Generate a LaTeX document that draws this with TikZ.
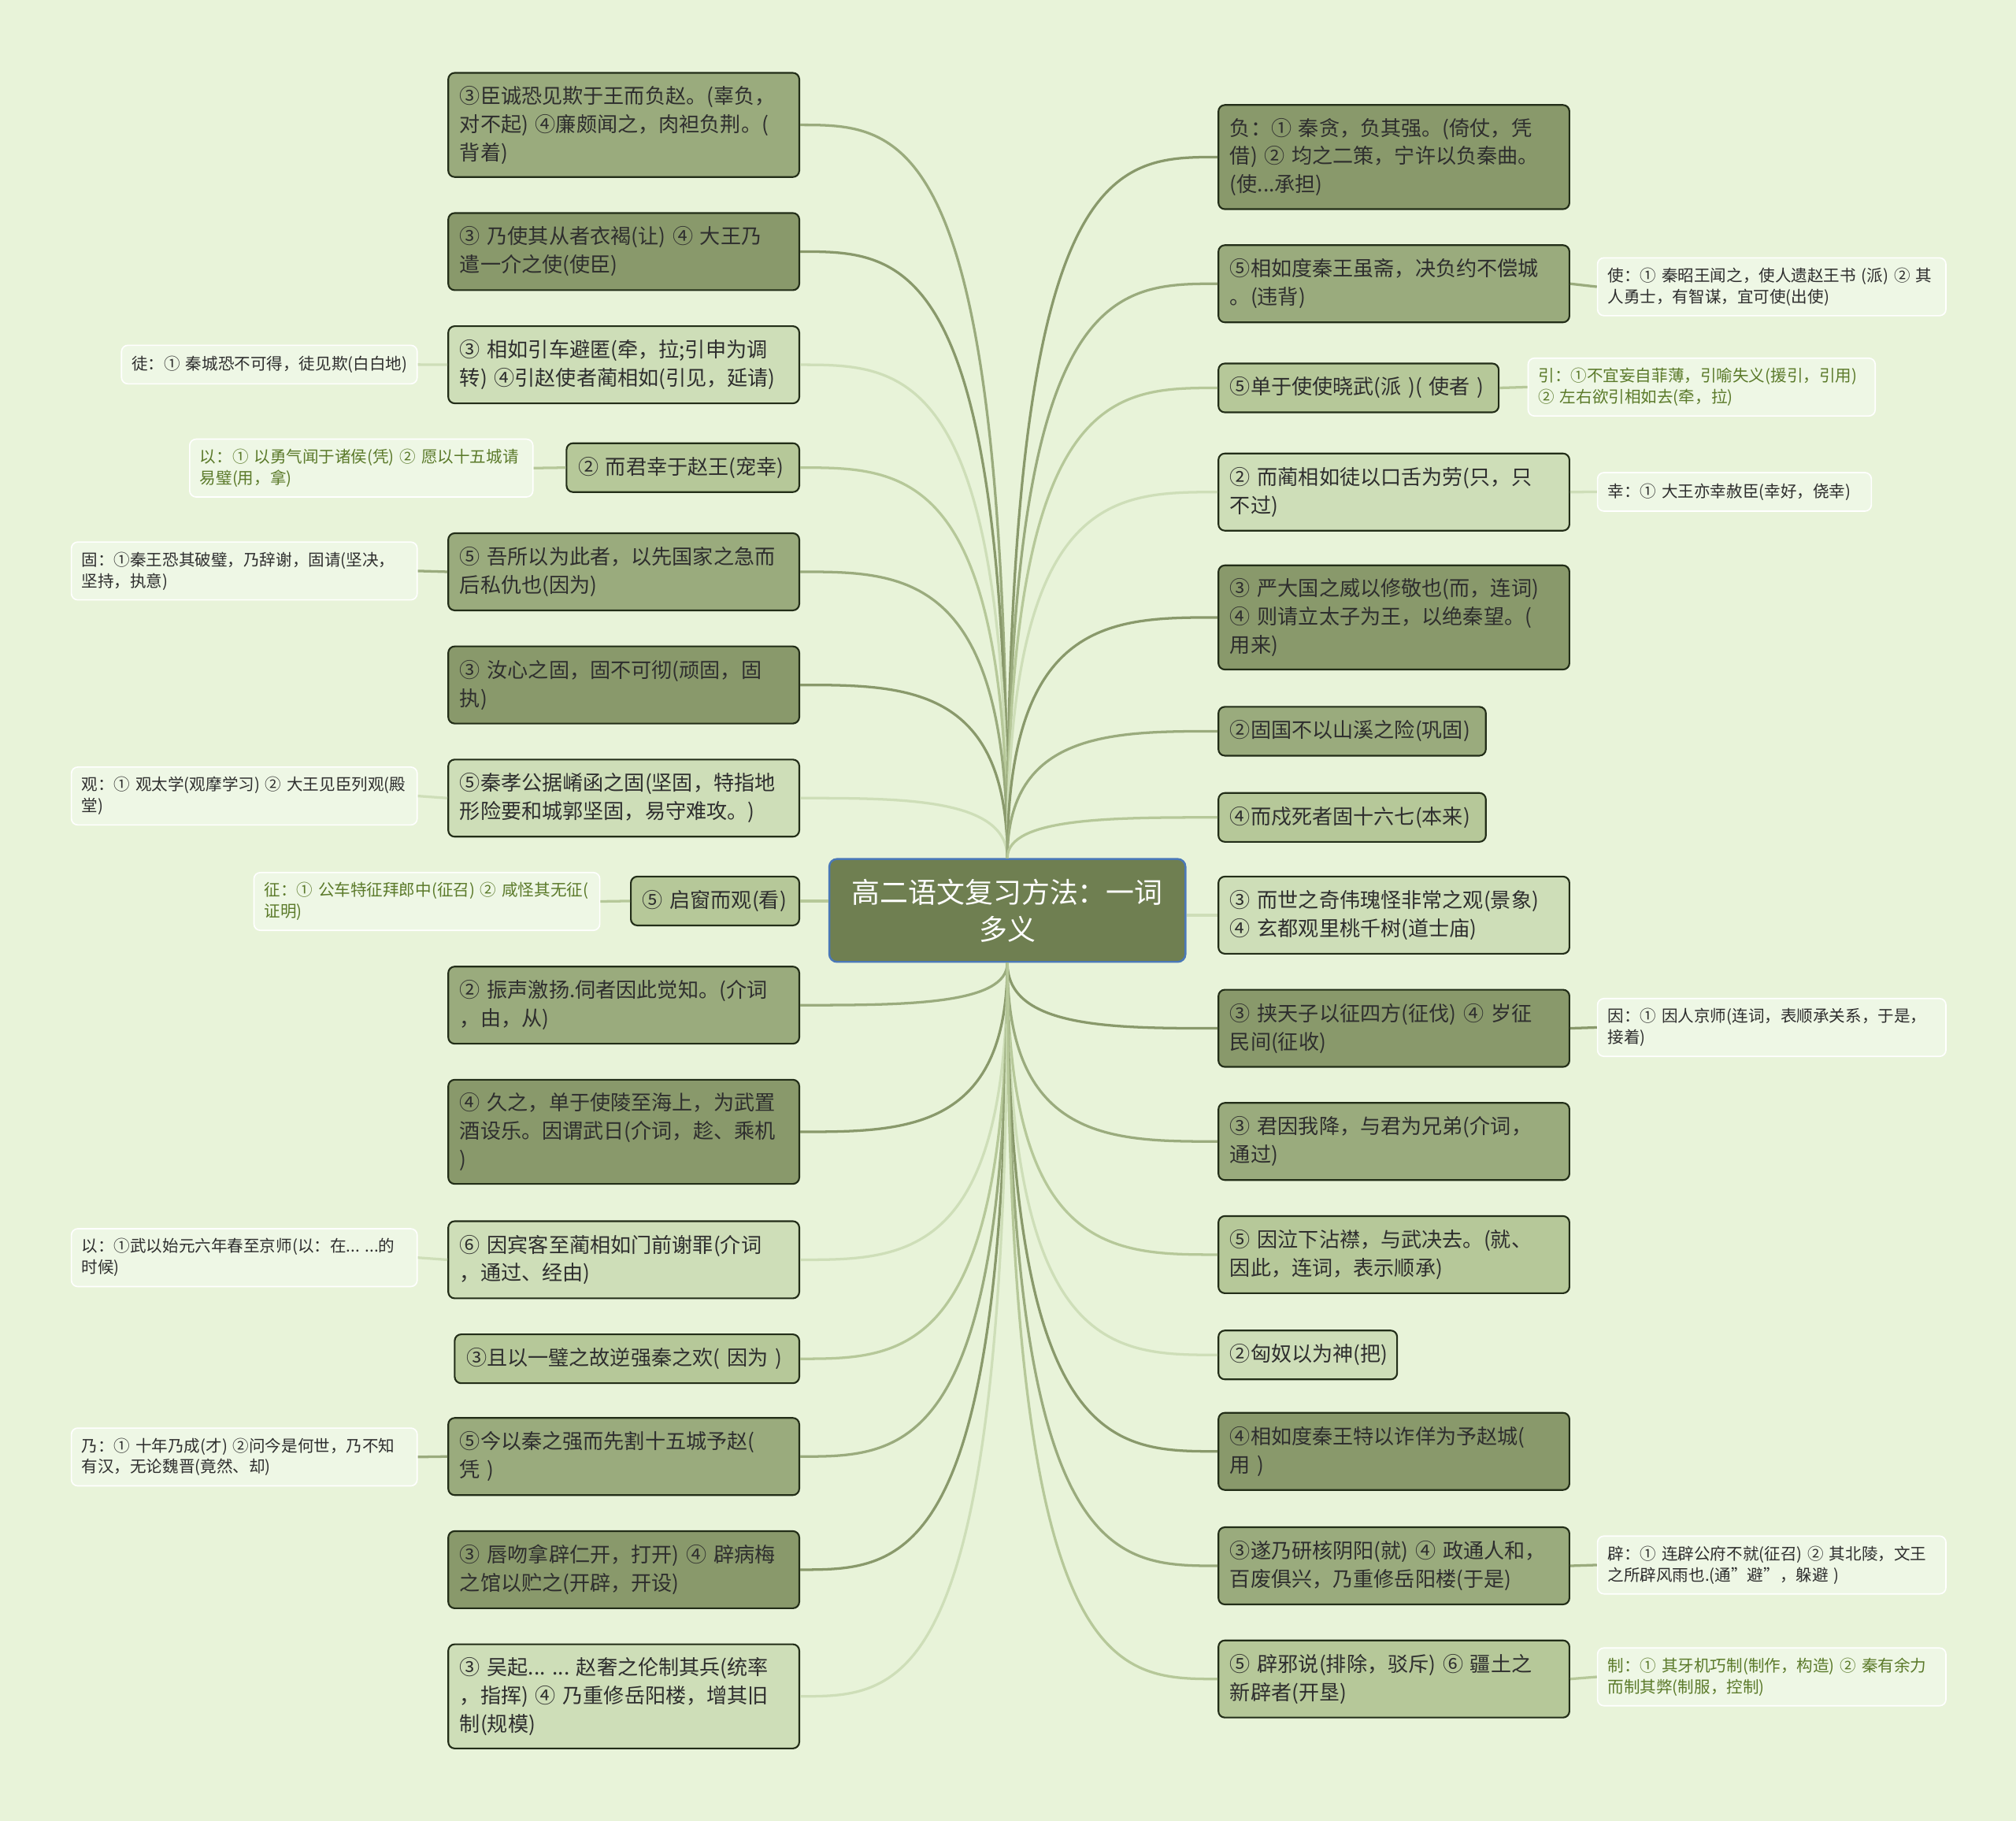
\documentclass[tikz,border=0pt]{standalone}
\usepackage{fontspec}
\setmainfont{Noto Sans CJK SC}
\usetikzlibrary{calc}
\definecolor{bgcol}{HTML}{E8F3D9}
\definecolor{olivea}{HTML}{89996B}
\definecolor{oliveb}{HTML}{9AAB7D}
\definecolor{olivec}{HTML}{B6C899}
\definecolor{olived}{HTML}{CEDEB8}
\definecolor{rootfill}{HTML}{6F7F51}
\definecolor{rootline}{HTML}{4A78B8}
\definecolor{boxline}{HTML}{222D18}
\definecolor{notefill}{HTML}{EEF7E5}
\definecolor{notegreen}{HTML}{5B7A2A}
\definecolor{inkgray}{HTML}{2E2E2E}
\tikzset{
  root/.style={fill=rootfill,draw=rootline,line width=1.5pt,rounded corners=6pt,
    minimum width=277pt,minimum height=80pt,text=white,align=center,
    font=\fontsize{22}{29}\selectfont},
  leaf/.style={draw=boxline,line width=1.3pt,rounded corners=5pt,anchor=north west,
    align=left,text width=255pt,inner xsep=9pt,inner ysep=0pt,text=inkgray,
    font=\fontsize{16}{22}\selectfont},
  note/.style={fill=notefill,draw=white,line width=1pt,rounded corners=5pt,anchor=north west,
    align=left,text width=255pt,inner xsep=8pt,inner ysep=0pt,text=inkgray,
    font=\fontsize{12.6}{16.5}\selectfont},
  oneline/.style={minimum height=38pt},
  twoline/.style={minimum height=60pt},
  threeline/.style={minimum height=81pt},
  noteone/.style={minimum height=30pt},
  notetwo/.style={minimum height=45pt},
  branch/.style={line width=2pt},
  fan/.style={to path={.. controls (\tikztostart |- \tikztotarget)
    and ($(\tikztostart |- \tikztotarget)!.5!(\tikztotarget)$) .. (\tikztotarget)}}
}

\begin{document}
\begin{tikzpicture}[x=1pt,y=-1pt]
\useasboundingbox (0,0) rectangle (1568,1416);
\fill[bgcol] (0,0) rectangle (1568,1416);

\node[root] (root) at (783.5,708) {高二语文复习方法：一词\\多义};

% left side
\node[leaf,threeline,fill=oliveb] (L1) at (348,56) {③臣诚恐见欺于王而负赵。(辜负，\\对不起) ④廉颇闻之，肉袒负荆。(\\背着)};
\node[leaf,twoline,fill=olivea] (L2) at (348,165) {③ 乃使其从者衣褐(让) ④ 大王乃\\遣一介之使(使臣)};
\node[leaf,twoline,fill=olived] (L3) at (348,253) {③~相如引车避匿(牵，拉;引申为调\\转) ④引赵使者蔺相如(引见，延请)};
\node[leaf,oneline,fill=olivec,text width=163pt] (L4) at (440,344) {②~而君幸于赵王(宠幸)};
\node[leaf,twoline,fill=oliveb] (L5) at (348,414) {⑤~吾所以为此者，以先国家之急而\\后私仇也(因为)};
\node[leaf,twoline,fill=olivea] (L6) at (348,502) {③ 汝心之固，固不可彻(顽固，固\\执)};
\node[leaf,twoline,fill=olived] (L7) at (348,590) {⑤秦孝公据崤函之固(坚固，特指地\\形险要和城郭坚固，易守难攻。)};
\node[leaf,oneline,fill=olivec,text width=113pt] (L8) at (490,681) {⑤~启窗而观(看)};
\node[leaf,twoline,fill=oliveb] (L9) at (348,751) {②~振声激扬.伺者因此觉知。(介词\\，由，从)};
\node[leaf,threeline,fill=olivea] (L10) at (348,839) {④~久之，单于使陵至海上，为武置\\酒设乐。因谓武日(介词，趁、乘机\\)};
\node[leaf,twoline,fill=olived] (L11) at (348,949) {⑥~因宾客至蔺相如门前谢罪(介词\\，通过、经由)};
\node[leaf,oneline,fill=olivec,text width=250pt] (L12) at (353,1037) {③且以一璧之故逆强秦之欢(~因为~)};
\node[leaf,twoline,fill=oliveb] (L13) at (348,1102) {⑤今以秦之强而先割十五城予赵(\\凭 )};
\node[leaf,twoline,fill=olivea] (L14) at (348,1190) {③~唇吻拿辟仁开，打开)~④~辟病梅\\之馆以贮之(开辟，开设)};
\node[leaf,threeline,fill=olived] (L15) at (348,1278) {③~吴起...~...~赵奢之伦制其兵(统率\\，指挥) ④ 乃重修岳阳楼，增其旧\\制(规模)};

% right side
\node[leaf,threeline,fill=olivea] (R1) at (947,81) {负：① 秦贪，负其强。(倚仗，凭\\借) ② 均之二策，宁许以负秦曲。\\(使...承担)};
\node[leaf,twoline,fill=oliveb] (R2) at (947,190) {⑤相如度秦王虽斋，决负约不偿城\\。(违背)};
\node[leaf,oneline,fill=olivec,text width=200pt] (R3) at (947,282) {⑤单于使使晓武(派~)(~使者~)};
\node[leaf,twoline,fill=olived] (R4) at (947,352) {②~而蔺相如徒以口舌为劳(只，只\\不过)};
\node[leaf,threeline,fill=olivea] (R5) at (947,439) {③~严大国之威以修敬也(而，连词)\\④~则请立太子为王，以绝秦望。(\\用来)};
\node[leaf,oneline,fill=oliveb,text width=190pt] (R6) at (947,549) {②固国不以山溪之险(巩固)};
\node[leaf,oneline,fill=olivec,text width=190pt] (R7) at (947,616) {④而戍死者固十六七(本来)};
\node[leaf,twoline,fill=olived] (R8) at (947,681) {③~而世之奇伟瑰怪非常之观(景象)\\④ 玄都观里桃千树(道士庙)};
\node[leaf,twoline,fill=olivea] (R9) at (947,769) {③~挟天子以征四方(征伐)~④~岁征\\民间(征收)};
\node[leaf,twoline,fill=oliveb] (R10) at (947,857) {③~君因我降，与君为兄弟(介词，\\通过)};
\node[leaf,twoline,fill=olivec] (R11) at (947,945) {⑤~因泣下沾襟，与武决去。(就、\\因此，连词，表示顺承)};
\node[leaf,oneline,fill=olived,text width=121pt] (R12) at (947,1034) {②匈奴以为神(把)};
\node[leaf,twoline,fill=olivea] (R13) at (947,1098) {④相如度秦王特以诈佯为予赵城(\\用 )};
\node[leaf,twoline,fill=oliveb] (R14) at (947,1187) {③遂乃研核阴阳(就)~④~政通人和，\\百废俱兴，乃重修岳阳楼(于是)};
\node[leaf,twoline,fill=olivec] (R15) at (947,1275) {⑤~辟邪说(排除，驳斥)~⑥~疆土之\\新辟者(开垦)};

% notes
\node[note,noteone,text width=214pt] (Ntu) at (94,268) {徒：①~秦城恐不可得，徒见欺(白白地)};
\node[note,notetwo,text width=251pt,text=notegreen] (Nyia) at (147,341) {以：①~以勇气闻于诸侯(凭)~②~愿以十五城请\\易璧(用，拿)};
\node[note,notetwo,text width=253pt] (Ngu) at (55,421) {固：①秦王恐其破璧，乃辞谢，固请(坚决，\\坚持，执意)};
\node[note,notetwo,text width=253pt] (Nguan) at (55,596) {观：①~观太学(观摩学习)~②~大王见臣列观(殿\\堂)};
\node[note,notetwo,text width=253pt,text=notegreen] (Nzheng) at (197,678) {征：①~公车特征拜郎中(征召)~②~咸怪其无征(\\证明)};
\node[note,notetwo,text width=253pt] (Nyib) at (55,955) {以：①武以始元六年春至京师(以：在...~...的\\时候)};
\node[note,notetwo,text width=253pt] (Nnai) at (55,1110) {乃：①~十年乃成(才)~②问今是何世，乃不知\\有汉，无论魏晋(竟然、却)};
\node[note,notetwo] (Nshi) at (1242,200) {使：①~秦昭王闻之，使人遗赵王书~(派)~②~其\\人勇士，有智谋，宜可使(出使)};
\node[note,notetwo,text width=254pt,text=notegreen] (Nyin) at (1188,278) {引：①不宜妄自菲薄，引喻失义(援引，引用)\\② 左右欲引相如去(牵，拉)};
\node[note,noteone,text width=197pt] (Nxing) at (1242,367) {幸：①~大王亦幸赦臣(幸好，侥幸)};
\node[note,notetwo] (Nyinb) at (1242,776) {因：①~因人京师(连词，表顺承关系，于是，\\接着)};
\node[note,notetwo] (Npi) at (1242,1194) {辟：①~连辟公府不就(征召)~②~其北陵，文王\\之所辟风雨也.(通"避"，躲避 )};
\node[note,notetwo,text=notegreen] (Nzhi) at (1242,1281) {制：①~其牙机巧制(制作，构造)~②~秦有余力\\而制其弊(制服，控制)};

% branches, left
\draw[branch,oliveb,fan] (root.north) to (L1.east);
\draw[branch,olivea,fan] (root.north) to (L2.east);
\draw[branch,olived,fan] (root.north) to (L3.east);
\draw[branch,olivec,fan] (root.north) to (L4.east);
\draw[branch,oliveb,fan] (root.north) to (L5.east);
\draw[branch,olivea,fan] (root.north) to (L6.east);
\draw[branch,olived,fan] (root.north) to (L7.east);
\draw[branch,olivec] (root.west |- L8.east) -- (L8.east);
\draw[branch,oliveb,fan] (root.south) to (L9.east);
\draw[branch,olivea,fan] (root.south) to (L10.east);
\draw[branch,olived,fan] (root.south) to (L11.east);
\draw[branch,olivec,fan] (root.south) to (L12.east);
\draw[branch,oliveb,fan] (root.south) to (L13.east);
\draw[branch,olivea,fan] (root.south) to (L14.east);
\draw[branch,olived,fan] (root.south) to (L15.east);

% branches, right
\draw[branch,olivea,fan] (root.north) to (R1.west);
\draw[branch,oliveb,fan] (root.north) to (R2.west);
\draw[branch,olivec,fan] (root.north) to (R3.west);
\draw[branch,olived,fan] (root.north) to (R4.west);
\draw[branch,olivea,fan] (root.north) to (R5.west);
\draw[branch,oliveb,fan] (root.north) to (R6.west);
\draw[branch,olivec,fan] (root.north) to (R7.west);
\draw[branch,olived] (root.east |- R8.west) -- (R8.west);
\draw[branch,olivea,fan] (root.south) to (R9.west);
\draw[branch,oliveb,fan] (root.south) to (R10.west);
\draw[branch,olivec,fan] (root.south) to (R11.west);
\draw[branch,olived,fan] (root.south) to (R12.west);
\draw[branch,olivea,fan] (root.south) to (R13.west);
\draw[branch,oliveb,fan] (root.south) to (R14.west);
\draw[branch,olivec,fan] (root.south) to (R15.west);

% note links
\draw[branch,olived] (Ntu.east) -- (L3.west);
\draw[branch,olivec] (Nyia.east) -- (L4.west);
\draw[branch,oliveb] (Ngu.east) -- (L5.west);
\draw[branch,olived] (Nguan.east) -- (L7.west);
\draw[branch,olivec] (Nzheng.east) -- (L8.west);
\draw[branch,olived] (Nyib.east) -- (L11.west);
\draw[branch,oliveb] (Nnai.east) -- (L13.west);
\draw[branch,oliveb] (R2.east) -- (Nshi.west);
\draw[branch,olivec] (R3.east) -- (Nyin.west);
\draw[branch,olived] (R4.east) -- (Nxing.west);
\draw[branch,olivea] (R9.east) -- (Nyinb.west);
\draw[branch,oliveb] (R14.east) -- (Npi.west);
\draw[branch,olivec] (R15.east) -- (Nzhi.west);

\end{tikzpicture}
\end{document}
